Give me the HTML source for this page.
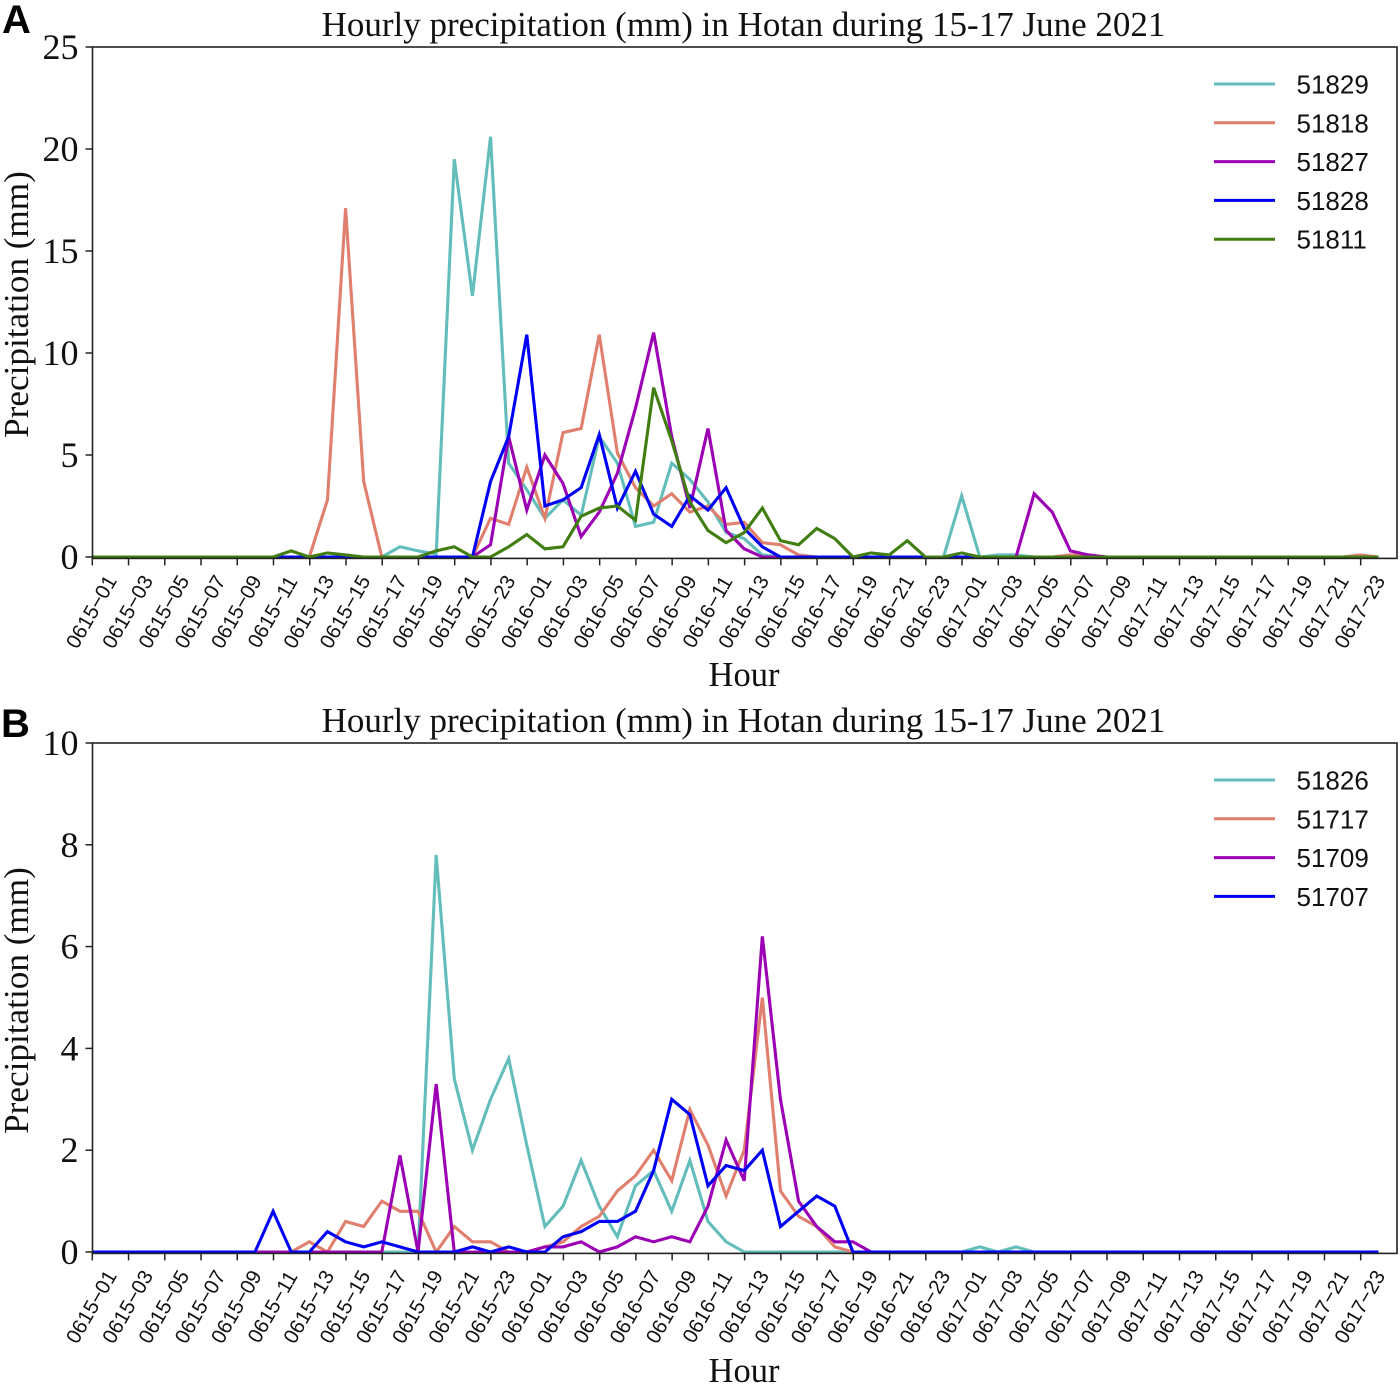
<!DOCTYPE html>
<html lang="en">
<head>
<meta charset="utf-8">
<title>Hourly precipitation in Hotan</title>
<style>
html,body{margin:0;padding:0;background:#fff;}
svg{display:block;}
.title,.axis-label,.ytick{font-family:"Liberation Serif",serif;fill:#111;}
.xtick,.legend-text{font-family:"Liberation Sans",sans-serif;fill:#111;}
.panel-letter{font-family:"Liberation Sans",sans-serif;font-weight:bold;fill:#000;font-size:40px;}
</style>
</head>
<body>
<svg id="chart" xmlns="http://www.w3.org/2000/svg" width="1400" height="1385" viewBox="0 0 1400 1385">
  <rect width="1400" height="1385" fill="#fff"/>
  <text class="panel-letter" x="2" y="33">A</text>
  <text class="panel-letter" x="1" y="737">B</text>
  <text class="title" x="743.5" y="36" text-anchor="middle" font-size="35">Hourly precipitation (mm) in Hotan during 15-17 June 2021</text>
  <text class="title" x="743.5" y="732" text-anchor="middle" font-size="35">Hourly precipitation (mm) in Hotan during 15-17 June 2021</text>
  <text class="axis-label" x="744" y="686" text-anchor="middle" font-size="34.5">Hour</text>
  <text class="axis-label" x="744" y="1382" text-anchor="middle" font-size="34.5">Hour</text>
  <text class="axis-label" transform="translate(28,304.5) rotate(-90)" text-anchor="middle" font-size="35.2">Precipitation (mm)</text>
  <text class="axis-label" transform="translate(28,1000.5) rotate(-90)" text-anchor="middle" font-size="35.2">Precipitation (mm)</text>
  <g id="panel-a"></g>
  <g id="panel-b"></g>
</svg>
<script>
const tickLabels = [
  "0615−01","0615−03","0615−05","0615−07","0615−09","0615−11","0615−13","0615−15","0615−17","0615−19","0615−21","0615−23",
  "0616−01","0616−03","0616−05","0616−07","0616−09","0616−11","0616−13","0616−15","0616−17","0616−19","0616−21","0616−23",
  "0617−01","0617−03","0617−05","0617−07","0617−09","0617−11","0617−13","0617−15","0617−17","0617−19","0617−21","0617−23"
];
const yTicksA = [0, 5, 10, 15, 20, 25];
const yTicksB = [0, 2, 4, 6, 8, 10];

const namesA = ["51829", "51818", "51827", "51828", "51811"];
const s51829 = [
  0,0,0,0,0,0,0,0,0,0,0,0,
  0,0,0,0,0,.5,.3,.15,19.5,12.8,20.6,4.6,
  3.3,1.9,2.8,2.05,5.9,4.6,1.5,1.7,4.6,3.8,2.7,1.2,
  .9,.1,0,0,0,0,0,0,0,0,0,0,
  3,0,.1,.1,0,0,0,0,0,0,0,0,
  0,0,0,0,0,0,0,0,0,0,0,0
];
const s51818 = [
  0,0,0,0,0,0,0,0,0,0,0,0,
  0,2.8,17.1,3.7,0,0,0,0,0,0,1.9,1.6,
  4.4,1.9,6.1,6.3,10.9,5.1,3.4,2.5,3.1,2.2,2.5,1.6,
  1.7,.7,.6,.1,0,0,0,0,0,0,0,0,
  0,0,0,0,0,0,.1,.1,0,0,0,0,
  0,0,0,0,0,0,0,0,0,0,.1,0
];
const s51827 = [
  0,0,0,0,0,0,0,0,0,0,0,0,
  0,0,0,0,0,0,0,0,0,0,.6,5.9,
  2.3,5,3.6,1,2.2,4.1,7.3,11,5.9,2.4,6.3,1.3,
  .4,0,0,0,0,0,0,0,0,0,0,0,
  0,0,0,0,3.1,2.2,.3,.1,0,0,0,0,
  0,0,0,0,0,0,0,0,0,0,0,0
];
const s51828 = [
  0,0,0,0,0,0,0,0,0,0,0,0,
  0,0,0,0,0,0,0,0,0,0,3.7,5.9,
  10.9,2.5,2.8,3.4,6,2.4,4.2,2.1,1.5,3,2.3,3.4,
  1.4,.5,0,0,0,0,0,0,0,0,0,0,
  0,0,0,0,0,0,0,0,0,0,0,0,
  0,0,0,0,0,0,0,0,0,0,0,0
];
const s51811 = [
  0,0,0,0,0,0,0,0,0,0,0,.3,
  0,.2,.1,0,0,0,0,.3,.5,0,0,.5,
  1.1,.4,.5,2,2.4,2.5,1.8,8.3,5.7,2.7,1.3,.7,
  1.2,2.4,.8,.6,1.4,.9,0,.2,.1,.8,0,0,
  .2,0,0,0,0,0,0,0,0,0,0,0,
  0,0,0,0,0,0,0,0,0,0,0,0
];

const namesB = ["51826", "51717", "51709", "51707"];
const s51826 = [
  0,0,0,0,0,0,0,0,0,0,0,0,
  0,0,0,0,0,0,0,7.8,3.4,2,3,3.8,
  2.1,.5,.9,1.8,.9,.3,1.3,1.6,.8,1.8,.6,.2,
  0,0,0,0,0,0,0,0,0,0,0,0,
  0,.1,0,.1,0,0,0,0,0,0,0,0,
  0,0,0,0,0,0,0,0,0,0,0,0
];
const s51717 = [
  0,0,0,0,0,0,0,0,0,0,0,0,
  .2,0,.6,.5,1,.8,.8,0,.5,.2,.2,0,
  0,.1,.2,.5,.7,1.2,1.5,2,1.4,2.8,2.1,1.1,
  2,5,1.2,.7,.5,.1,0,0,0,0,0,0,
  0,0,0,0,0,0,0,0,0,0,0,0,
  0,0,0,0,0,0,0,0,0,0,0,0
];
const s51709 = [
  0,0,0,0,0,0,0,0,0,0,0,0,
  0,0,0,0,0,1.9,0,3.3,0,0,0,0,
  0,.1,.1,.2,0,.1,.3,.2,.3,.2,.9,2.2,
  1.4,6.2,3,1,.5,.2,.2,0,0,0,0,0,
  0,0,0,0,0,0,0,0,0,0,0,0,
  0,0,0,0,0,0,0,0,0,0,0,0
];
const s51707 = [
  0,0,0,0,0,0,0,0,0,0,.8,0,
  0,.4,.2,.1,.2,.1,0,0,0,.1,0,.1,
  0,0,.3,.4,.6,.6,.8,1.6,3,2.7,1.3,1.7,
  1.6,2,.5,.8,1.1,.9,0,0,0,0,0,0,
  0,0,0,0,0,0,0,0,0,0,0,0,
  0,0,0,0,0,0,0,0,0,0,0,0
];

const palette = ["#63bdbb", "#e07f6e", "#9c00b4", "#0000f6", "#417e12"];
const SVGNS = "http://www.w3.org/2000/svg";

function mk(tag, parent) {
  const el = document.createElementNS(SVGNS, tag);
  parent.appendChild(el);
  return el;
}

function drawPanel(group, prefix, seriesList, names, yTicks, top, zero, legendY) {
  const left = 92.5, origin = 91.9, right = 1397, spine = zero + 1.4;
  const yMax = yTicks[yTicks.length - 1];
  const xScale = function (i) { return origin + i * 18.12; };
  const yScale = function (v) { return zero - (v / yMax) * (zero - top); };

  // series lines
  seriesList.forEach(function (values, k) {
    const line = mk("polyline", group);
    
    
    line.setAttribute("points", values.map(function (v, i) {
      return xScale(i).toFixed(2) + "," + yScale(v).toFixed(2);
    }).join(" "));
    line.setAttribute("fill", "none");
    line.setAttribute("stroke", palette[k]);
    line.setAttribute("stroke-width", "3.1");
    line.setAttribute("stroke-linejoin", "miter");
  });

  // frame
  const frame = mk("rect", group);
  
  
  frame.setAttribute("x", left);
  frame.setAttribute("y", top);
  frame.setAttribute("width", right - left);
  frame.setAttribute("height", spine - top);
  frame.setAttribute("fill", "none");
  frame.setAttribute("stroke", "#222");
  frame.setAttribute("stroke-width", "1.6");

  // y axis
  yTicks.forEach(function (v) {
    const y = yScale(v);
    const tick = mk("line", group);
    
    
    tick.setAttribute("x1", left - 7);
    tick.setAttribute("x2", left);
    tick.setAttribute("y1", y);
    tick.setAttribute("y2", y);
    tick.setAttribute("stroke", "#222");
    tick.setAttribute("stroke-width", "1.5");
    const label = mk("text", group);
    
    
    label.setAttribute("class", "ytick");
    label.setAttribute("x", left - 14);
    label.setAttribute("y", y + 12);
    label.setAttribute("text-anchor", "end");
    label.setAttribute("font-size", "36");
    label.textContent = v;
  });

  // x axis
  tickLabels.forEach(function (text, n) {
    const x = xScale(n * 2) + 0.4;
    const tick = mk("line", group);
    
    
    tick.setAttribute("x1", x);
    tick.setAttribute("x2", x);
    tick.setAttribute("y1", spine);
    tick.setAttribute("y2", spine + 7);
    tick.setAttribute("stroke", "#222");
    tick.setAttribute("stroke-width", "1.5");
    const label = mk("text", group);
    
    
    label.setAttribute("class", "xtick");
    label.setAttribute("transform", "translate(" + (x - 0.6).toFixed(2) + "," + (zero + 55) + ") rotate(-60)");
    label.setAttribute("text-anchor", "middle");
    label.setAttribute("dominant-baseline", "central");
    label.setAttribute("font-size", "20.5");
    label.textContent = text;
  });

  // legend
  names.forEach(function (name, k) {
    const y = legendY + k * 38.8;
    const handle = mk("line", group);
    
    
    handle.setAttribute("x1", 1214);
    handle.setAttribute("x2", 1275);
    handle.setAttribute("y1", y);
    handle.setAttribute("y2", y);
    handle.setAttribute("stroke", palette[k]);
    handle.setAttribute("stroke-width", "3");
    const label = mk("text", group);
    
    
    label.setAttribute("class", "legend-text");
    label.setAttribute("x", 1296.5);
    label.setAttribute("y", y + 9.5);
    label.setAttribute("font-size", "26");
    label.textContent = name;
  });
}

drawPanel(document.getElementById("panel-a"), "panel-a", [s51829, s51818, s51827, s51828, s51811], namesA, yTicksA, 47, 557, 84);
drawPanel(document.getElementById("panel-b"), "panel-b", [s51826, s51717, s51709, s51707], namesB, yTicksB, 743, 1252, 780);
</script>
</body>
</html>
